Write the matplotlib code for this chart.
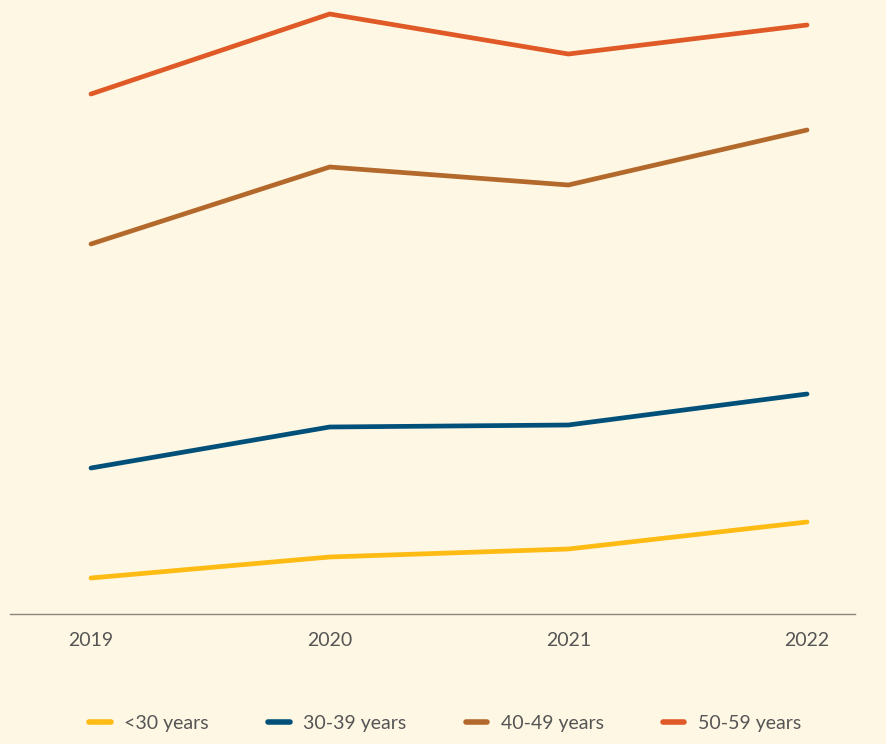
import matplotlib.pyplot as plt
from matplotlib.lines import Line2D

# data (arbitrary units, baseline = 0)
years = [2019, 2020, 2021, 2022]
under30 = [36, 57, 65, 92]
age30_39 = [146, 187, 189, 220]
age40_49 = [370, 447, 429, 484]
age50_59 = [520, 600, 560, 589]
labels = ["<30 years", "30-39 years", "40-49 years", "50-59 years"]
colors = ["#FDBB13", "#00507A", "#B3692B", "#DF5A27"]

bg = "#FEF7E3"
plt.rcParams["font.family"] = ["Lato", "DejaVu Sans"]

fig = plt.figure(figsize=(8.87, 7.44), dpi=100, facecolor=bg)
ax = fig.add_axes([10 / 887, 130 / 744, 845 / 887, 614 / 744])
ax.set_facecolor(bg)

series = [under30, age30_39, age40_49, age50_59]
for vals, c in zip(series, colors):
    ax.plot(years, vals, color=c, lw=3.4, solid_capstyle="round", solid_joinstyle="miter")

ax.set_xlim(2019 - 81 / 238.7, 2022 + 48 / 238.7)
ax.set_ylim(0, 614)
for s in ["top", "right", "left"]:
    ax.spines[s].set_visible(False)
ax.spines["bottom"].set_color("#8A8580")
ax.spines["bottom"].set_linewidth(1.0)
ax.set_yticks([])
ax.set_xticks(years)
ax.set_xticklabels([str(y) for y in years])
ax.tick_params(axis="x", length=0, pad=13, labelsize=14, labelcolor="#555555")

handles = [Line2D([0], [0], color=c, lw=4, solid_capstyle="round") for c in colors]
fig.legend(handles, labels, loc="center", bbox_to_anchor=(0.502, 1 - 723 / 744), ncol=4,
           frameon=False, fontsize=14, labelcolor="#555555", handlelength=1.1,
           handletextpad=0.7, columnspacing=3.05)

fig.savefig("out.png", facecolor=bg)
